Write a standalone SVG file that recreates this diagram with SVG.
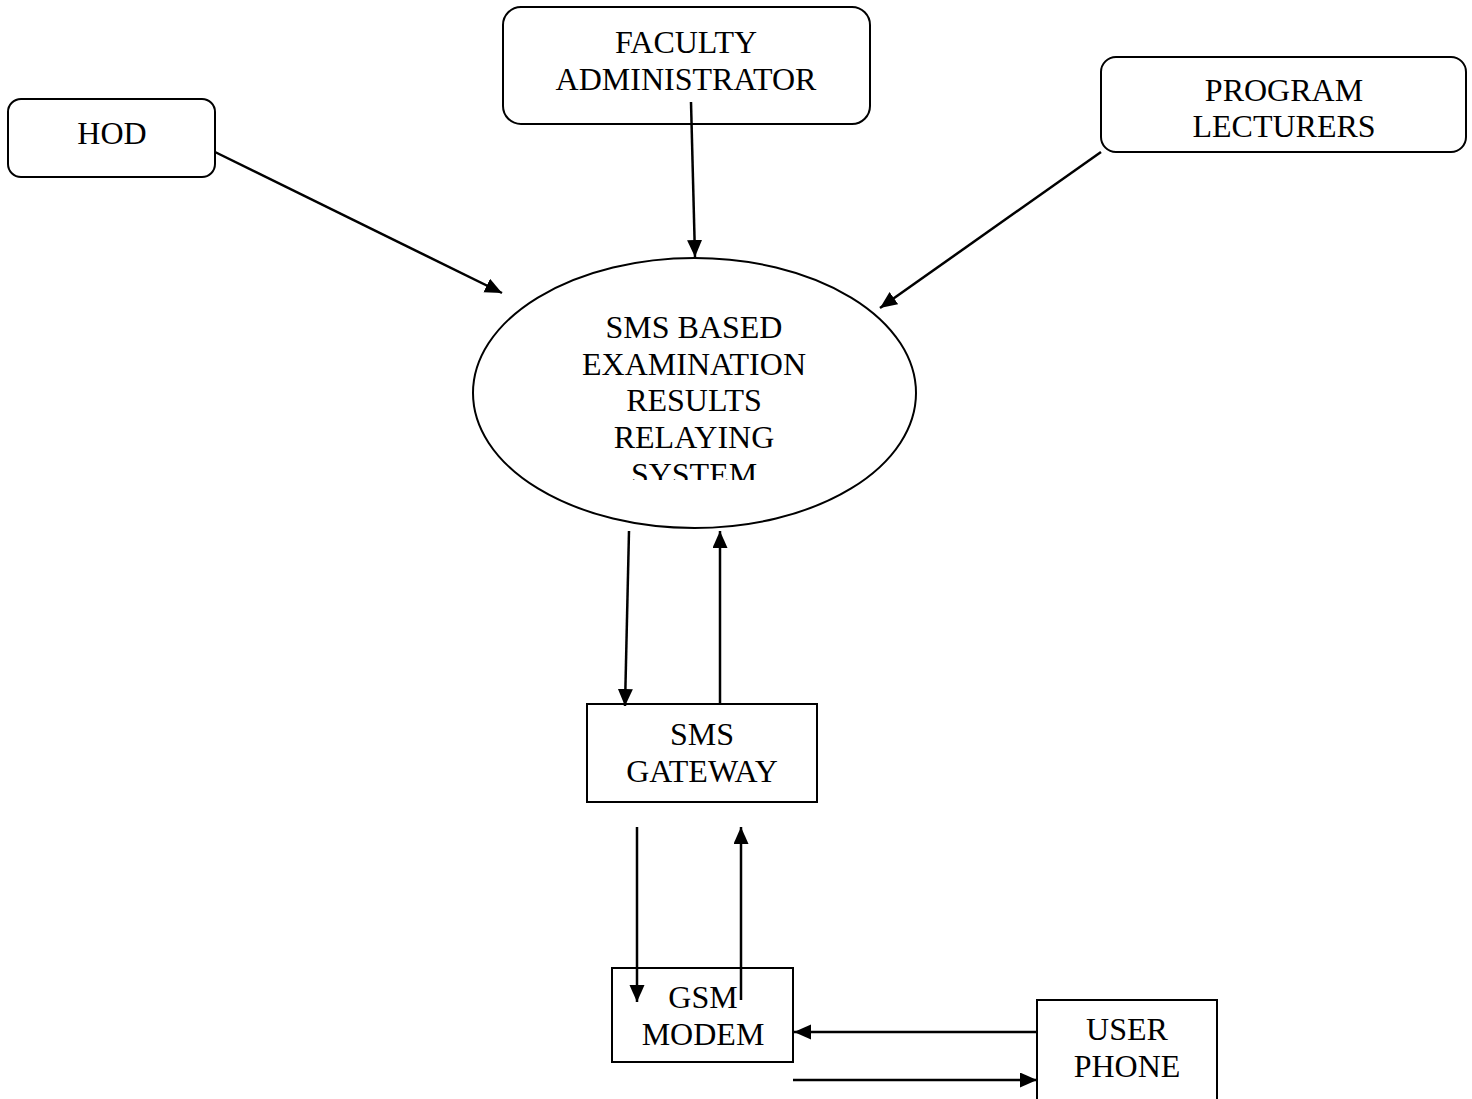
<svg xmlns="http://www.w3.org/2000/svg" width="1472" height="1099" viewBox="0 0 1472 1099">
<style>
.box{fill:#fff;stroke:#000;stroke-width:2}
.t{font-family:"Liberation Serif","Times New Roman",serif;font-size:32px;fill:#000;text-anchor:middle}
.c{stroke:#000;stroke-width:2.5;fill:none;marker-end:url(#ah)}
</style>
<defs>
<marker id="ah" markerUnits="userSpaceOnUse" markerWidth="20" markerHeight="16" refX="17" refY="7.5" orient="auto">
<path d="M0,0 L17,7.5 L0,15 z" fill="#000"/>
</marker>
<clipPath id="ellclip"><rect x="470" y="290" width="450" height="190"/></clipPath>
</defs>
<rect width="1472" height="1099" fill="#fff"/>
<g id="hod">
<rect class="box" x="8" y="99" width="207" height="78" rx="13"/>
<text class="t" x="112" y="144">HOD</text>
</g>
<g id="faculty">
<rect class="box" x="503" y="7" width="367" height="117" rx="18"/>
<text class="t" x="686" y="53">FACULTY</text>
<text class="t" x="686" y="90">ADMINISTRATOR</text>
</g>
<g id="lecturers">
<rect class="box" x="1101" y="57" width="365" height="95" rx="15"/>
<text class="t" x="1284" y="101">PROGRAM</text>
<text class="t" x="1284" y="137">LECTURERS</text>
</g>
<g id="system">
<ellipse class="box" cx="694.5" cy="393" rx="221.5" ry="135"/>
<g clip-path="url(#ellclip)">
<text class="t" x="694" y="338">SMS BASED</text>
<text class="t" x="694" y="375">EXAMINATION</text>
<text class="t" x="694" y="411">RESULTS</text>
<text class="t" x="694" y="448">RELAYING</text>
<text class="t" x="694" y="485">SYSTEM</text>
</g>
</g>
<g id="gateway">
<rect class="box" x="587" y="704" width="230" height="98"/>
<text class="t" x="702" y="745">SMS</text>
<text class="t" x="702" y="782">GATEWAY</text>
</g>
<g id="modem">
<rect class="box" x="612" y="968" width="181" height="94"/>
<text class="t" x="703" y="1008">GSM</text>
<text class="t" x="703" y="1045">MODEM</text>
</g>
<g id="phone">
<rect class="box" x="1037" y="1000" width="180" height="130"/>
<text class="t" x="1127" y="1040">USER</text>
<text class="t" x="1127" y="1077">PHONE</text>
</g>
<g id="connectors">
<line class="c" x1="215" y1="152" x2="502" y2="293"/>
<line class="c" x1="691" y1="102" x2="695" y2="257"/>
<line class="c" x1="1101" y1="152" x2="880" y2="308"/>
<line class="c" x1="629" y1="531" x2="625" y2="706"/>
<line class="c" x1="720" y1="704" x2="720" y2="531"/>
<line class="c" x1="637" y1="827" x2="637" y2="1002"/>
<line class="c" x1="741" y1="1000" x2="741" y2="827"/>
<line class="c" x1="1037" y1="1032" x2="794" y2="1032"/>
<line class="c" x1="793" y1="1080" x2="1037" y2="1080"/>
</g>
</svg>
